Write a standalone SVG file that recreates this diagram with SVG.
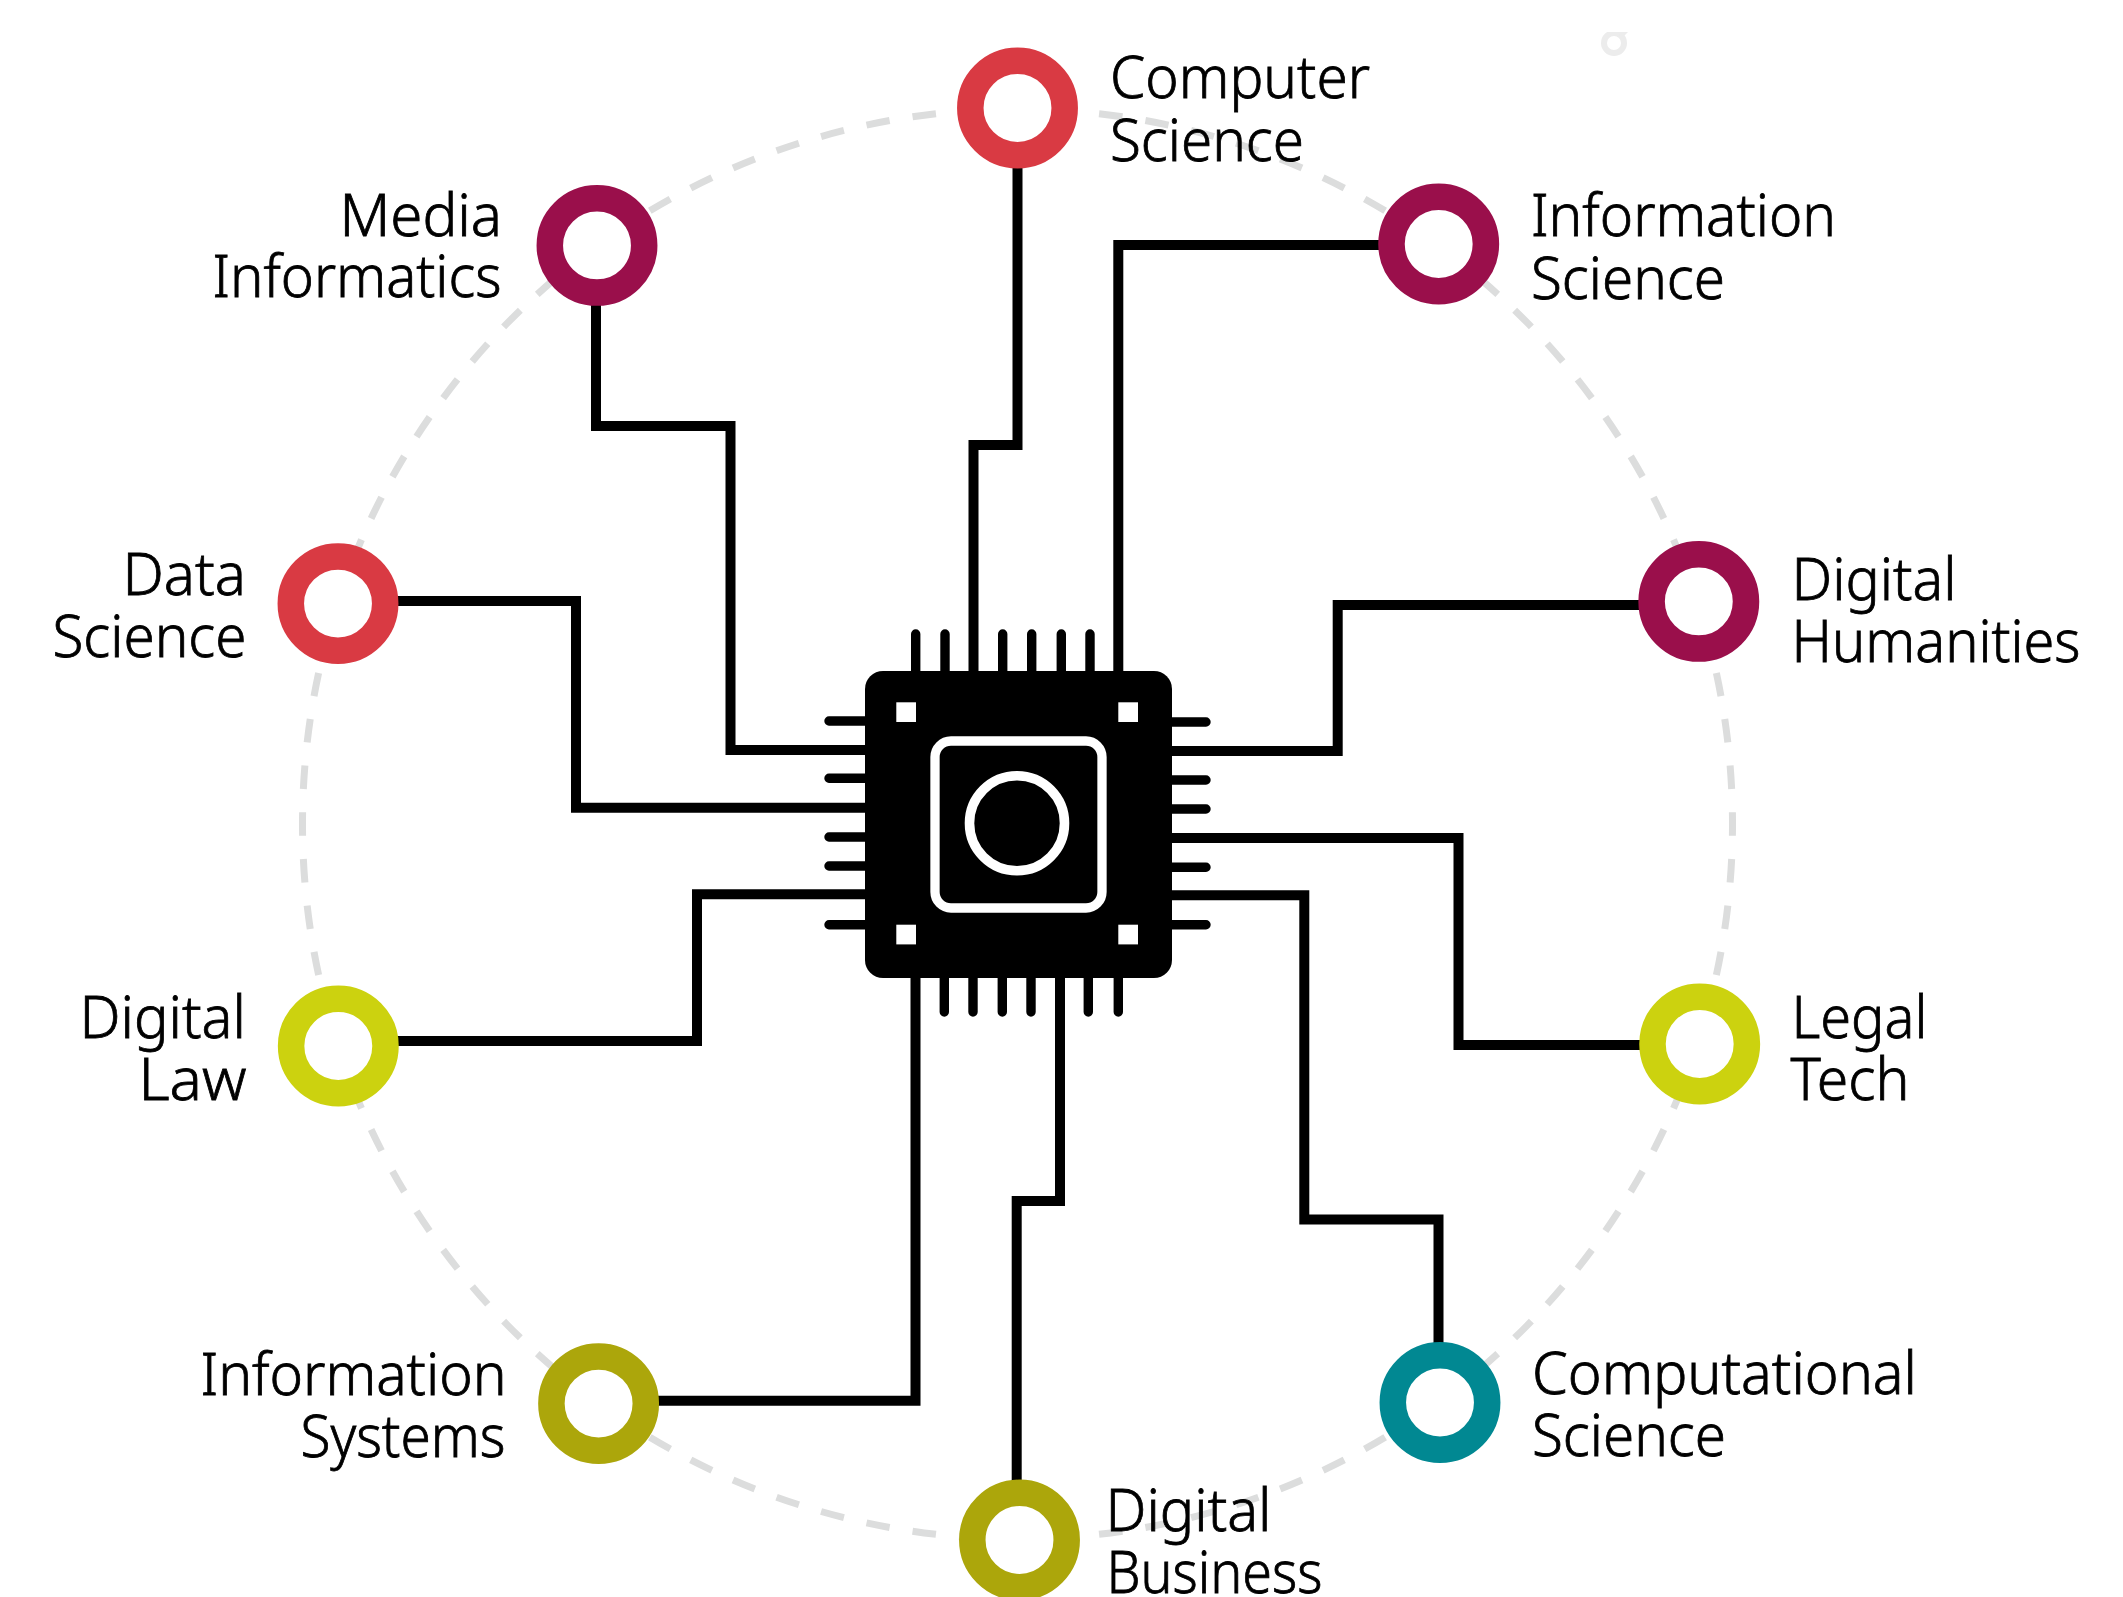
<svg xmlns="http://www.w3.org/2000/svg" width="2123" height="1597" viewBox="0 0 2123 1597">
<defs>
<style>
.ring{fill:#fff;stroke-width:26.5}
.red{stroke:#d93a43}.maroon{stroke:#9a0f4b}.lime{stroke:#ccd20f}.olive{stroke:#aca60b}.teal{stroke:#018892}
.wire{fill:none;stroke:#000;stroke-width:10;stroke-linejoin:miter}
.pin{stroke:#000;stroke-width:9.4;stroke-linecap:round}
.lbl{font-family:"Noto Sans","Open Sans",sans-serif;font-size:58px;font-weight:300;fill:#000;stroke:#000;stroke-width:.8}
</style>
</defs>
<rect width="2123" height="1597" fill="#fff"/>
<circle id="orbit" cx="1017.5" cy="824" r="715" fill="none" stroke="#dcdddd" stroke-width="7" pathLength="4492.8" stroke-dasharray="23.6 23.2" stroke-dashoffset="11.8"/>
<g id="speck"><circle cx="1614" cy="43" r="10" fill="none" stroke="#ececec" stroke-width="6"/><rect x="1598" y="24" width="32" height="8" fill="#fff"/><path d="M1617 32H1628L1622 38Z" fill="#ececec"/></g>
<g id="connectors">
<path class="wire" d="M1017.5 160V445H973.5V675"/>
<path class="wire" d="M1385 245H1118.3V675"/>
<path class="wire" d="M1645 605H1337.7V751H1168"/>
<path class="wire" d="M1645 1045H1458.5V838H1168"/>
<path class="wire" d="M1438.5 1350V1219.5H1304.3V895.3H1168"/>
<path class="wire" d="M1016.7 1490V1201H1060V975"/>
<path class="wire" d="M655 1400.7H915.5V975"/>
<path class="wire" d="M395 1041H697V894.3H870"/>
<path class="wire" d="M395 601H576V807.7H870"/>
<path class="wire" d="M596 300V426H730.5V750H870"/>
</g>
<g id="chip">
<g class="pin">
<path d="M915.7 680V634M945 680V634M1002.7 680V634M1031.7 680V634M1061.3 680V634M1090 680V634"/>
<path d="M944.3 970V1012M973 970V1012M1002.3 970V1012M1031 970V1012M1088.3 970V1012M1118.3 970V1012"/>
<path d="M870 721H829M870 778.3H829M870 837H829M870 866H829M870 924.7H829"/>
<path d="M1165 722H1206M1165 780H1206M1165 809H1206M1165 867.3H1206M1165 924.7H1206"/>
</g>
<rect x="865" y="671" width="307" height="307" rx="18" fill="#000"/>
<g fill="#fff"><rect x="896.3" y="702.3" width="19.7" height="19.7"/><rect x="1118.3" y="702.3" width="19.7" height="19.7"/><rect x="896.3" y="924.7" width="19.7" height="19.7"/><rect x="1118.3" y="924.7" width="19.7" height="19.7"/></g>
<rect x="935" y="741" width="167" height="167" rx="16" fill="none" stroke="#fff" stroke-width="9.3"/>
<circle cx="1017" cy="823.3" r="47.5" fill="none" stroke="#fff" stroke-width="9.6"/>
</g>
<g id="computer-science"><circle class="ring red" cx="1017.5" cy="108" r="47.2"/><text class="lbl" x="1110" y="98.3" textLength="260" lengthAdjust="spacingAndGlyphs">Computer</text><text class="lbl" x="1110" y="160.7" textLength="194" lengthAdjust="spacingAndGlyphs">Science</text></g>
<g id="information-science"><circle class="ring maroon" cx="1438.7" cy="244" r="47.2"/><text class="lbl" x="1531" y="236.4" textLength="305" lengthAdjust="spacingAndGlyphs">Information</text><text class="lbl" x="1531" y="298.5" textLength="194" lengthAdjust="spacingAndGlyphs">Science</text></g>
<g id="digital-humanities"><circle class="ring maroon" cx="1698.8" cy="601.4" r="47.2"/><text class="lbl" x="1791.5" y="600" textLength="165" lengthAdjust="spacingAndGlyphs">Digital</text><text class="lbl" x="1791.5" y="661.8" textLength="289" lengthAdjust="spacingAndGlyphs">Humanities</text></g>
<g id="legal-tech"><circle class="ring lime" cx="1699.7" cy="1044" r="47.2"/><text class="lbl" x="1791.5" y="1037.5" textLength="136" lengthAdjust="spacingAndGlyphs">Legal</text><text class="lbl" x="1790.5" y="1099.8" textLength="119" lengthAdjust="spacingAndGlyphs">Tech</text></g>
<g id="computational-science"><circle class="ring teal" cx="1440" cy="1402.5" r="47.2"/><text class="lbl" x="1532" y="1394" textLength="385" lengthAdjust="spacingAndGlyphs">Computational</text><text class="lbl" x="1532" y="1456" textLength="194" lengthAdjust="spacingAndGlyphs">Science</text></g>
<g id="digital-business"><circle class="ring olive" cx="1019.5" cy="1540" r="47.2"/><text class="lbl" x="1105.5" y="1531" textLength="166" lengthAdjust="spacingAndGlyphs">Digital</text><text class="lbl" x="1106.5" y="1593" textLength="216" lengthAdjust="spacingAndGlyphs">Business</text></g>
<g id="information-systems"><circle class="ring olive" cx="598.6" cy="1403.6" r="47.2"/><text class="lbl" x="200.5" y="1394.6" textLength="306" lengthAdjust="spacingAndGlyphs">Information</text><text class="lbl" x="300.5" y="1457" textLength="205" lengthAdjust="spacingAndGlyphs">Systems</text></g>
<g id="digital-law"><circle class="ring lime" cx="338.3" cy="1046" r="47.2"/><text class="lbl" x="79.5" y="1037.5" textLength="166.5" lengthAdjust="spacingAndGlyphs">Digital</text><text class="lbl" x="138.5" y="1099.8" textLength="108" lengthAdjust="spacingAndGlyphs">Law</text></g>
<g id="data-science"><circle class="ring red" cx="338" cy="603.6" r="47.2"/><text class="lbl" x="122.5" y="594.6" textLength="123.5" lengthAdjust="spacingAndGlyphs">Data</text><text class="lbl" x="52.5" y="657" textLength="194" lengthAdjust="spacingAndGlyphs">Science</text></g>
<g id="media-informatics"><circle class="ring maroon" cx="597" cy="245.4" r="47.2"/><text class="lbl" x="339.5" y="235.7" textLength="162.5" lengthAdjust="spacingAndGlyphs">Media</text><text class="lbl" x="212.5" y="297" textLength="289" lengthAdjust="spacingAndGlyphs">Informatics</text></g>
</svg>
